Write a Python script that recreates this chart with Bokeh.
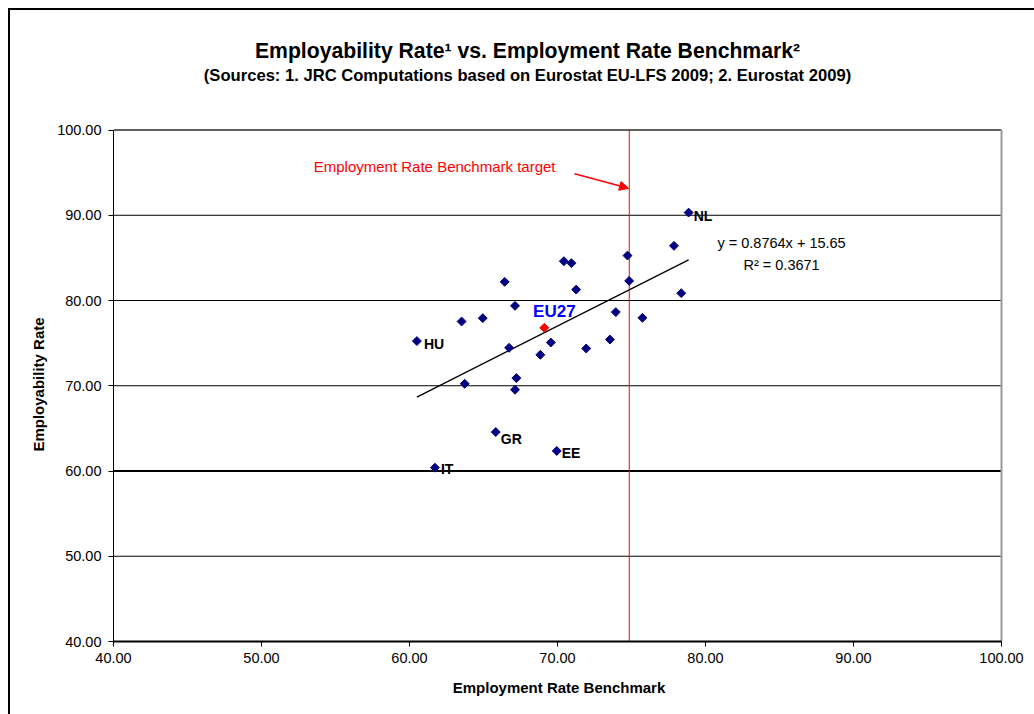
import numpy as np
from bokeh.plotting import figure
from bokeh.layouts import column
from bokeh.models import (Range1d, FixedTicker, NumeralTickFormatter, Label,
                          Arrow, NormalHead, ColumnDataSource)
from bokeh.embed import file_html
from bokeh.resources import INLINE

# ---------------- data ----------------
countries = ["NL", "", "", "", "", "", "", "", "", "", "", "", "", "",
             "HU", "", "", "", "", "", "", "", "", "GR", "EE", "IT"]
employment_benchmark = [78.86, 77.87, 74.73, 70.43, 70.94, 66.43, 74.84, 71.26, 78.36,
                        67.13, 73.94, 64.95, 63.52, 75.74, 60.50, 69.55, 73.54, 66.73,
                        71.94, 68.84, 67.22, 63.73, 67.13, 65.83, 69.95, 61.72]
employability_rate = [90.31, 86.41, 85.27, 84.61, 84.38, 82.19, 82.30, 81.28, 80.86,
                      79.37, 78.64, 77.93, 77.54, 77.97, 75.24, 75.07, 75.42, 74.45,
                      74.37, 73.63, 70.90, 70.23, 69.53, 64.57, 62.35, 60.39]
eu27_x = [69.11]
eu27_y = [76.80]
benchmark_target = 74.85
trend_slope = 0.8764
trend_intercept = 15.65
r_squared = 0.3671
x_ticks = [40, 50, 60, 70, 80, 90, 100]
y_ticks = [40, 50, 60, 70, 80, 90, 100]

title_text = "Employability Rate¹ vs. Employment Rate Benchmark²"
subtitle_text = "(Sources: 1. JRC Computations based on Eurostat EU-LFS 2009; 2. Eurostat 2009)"

# label offsets in pixels (style only)
label_offsets = {"NL": (5, 3), "HU": (7, 3), "GR": (5, 7), "EE": (5, 2), "IT": (6, 1)}

FONT = "Liberation Sans"
X0, X1 = x_ticks[0], x_ticks[-1]
Y0, Y1 = y_ticks[0], y_ticks[-1]

W, H = 1034, 714
TOP_H = 112
MAIN_H = H - TOP_H
FRAME_LEFT, FRAME_RIGHT = 113, 1004
BOTTOM_BORDER = 73
TOP_BORDER = 15
frame_h = MAIN_H - BOTTOM_BORDER - TOP_BORDER
y_top = Y0 + frame_h / 8.525
x_right = X0 + (FRAME_RIGHT - FRAME_LEFT) / 14.8
title_x = X0 + (527 - FRAME_LEFT) / 14.8

top_css = ("linear-gradient(#000,#000) 8px 8px / calc(100% - 8px) 2px no-repeat, "
           "linear-gradient(#000,#000) 8px 8px / 2px calc(100% - 8px) no-repeat, #fff")
main_css = "linear-gradient(#000,#000) 8px 0px / 2px 100% no-repeat, #fff"

# ---------------- title strip ----------------
t = figure(width=W, height=TOP_H, output_backend="svg", toolbar_location=None,
           x_range=Range1d(X0, x_right), y_range=Range1d(TOP_H, 0),
           x_axis_location=None, y_axis_location=None,
           min_border_left=FRAME_LEFT, min_border_right=W - FRAME_RIGHT,
           min_border_top=0, min_border_bottom=0,
           border_fill_color=None, background_fill_color=None, outline_line_color=None,
           styles={"background": top_css})
t.xgrid.visible = False
t.ygrid.visible = False
t.add_layout(Label(x=title_x, y=50, text=title_text, text_font=FONT, text_font_size="21.2px",
                   text_font_style="bold", text_color="black", text_align="center",
                   text_baseline="middle"))
t.add_layout(Label(x=title_x, y=75, text=subtitle_text, text_font=FONT, text_font_size="16.6px",
                   text_font_style="bold", text_color="black", text_align="center",
                   text_baseline="middle"))

# ---------------- main chart ----------------
p = figure(width=W, height=MAIN_H, output_backend="svg", toolbar_location=None,
           x_range=Range1d(X0, x_right), y_range=Range1d(Y0, y_top),
           min_border_left=FRAME_LEFT, min_border_right=W - FRAME_RIGHT,
           min_border_top=TOP_BORDER, min_border_bottom=BOTTOM_BORDER,
           border_fill_color=None, background_fill_color=None, outline_line_color=None,
           styles={"background": main_css})

p.xgrid.visible = False
p.ygrid.visible = False

for ax, ticks in ((p.xaxis[0], x_ticks), (p.yaxis[0], y_ticks)):
    ax.ticker = FixedTicker(ticks=ticks)
    ax.bounds = (ticks[0], ticks[-1])
    ax.formatter = NumeralTickFormatter(format="0.00")
    ax.major_tick_out = 5
    ax.major_tick_in = 0
    ax.minor_tick_line_color = None
    ax.axis_line_color = "black"
    ax.major_tick_line_color = "black"
    ax.major_label_text_font = FONT
    ax.major_label_text_font_size = "14.5px"
    ax.major_label_text_color = "black"
    ax.axis_label_text_font = FONT
    ax.axis_label_text_font_size = "15px"
    ax.axis_label_text_font_style = "bold"
    ax.axis_label_text_color = "black"

p.xaxis.axis_label = "Employment Rate Benchmark"
p.yaxis.axis_label = "Employability Rate"
p.xaxis.axis_line_width = 2
p.yaxis.axis_line_width = 1
p.xaxis.major_label_standoff = 6
p.yaxis.major_label_standoff = 7
p.xaxis.axis_label_standoff = 13
p.yaxis.axis_label_standoff = 7

# horizontal gridlines
grid_vals = y_ticks[1:-1]
p.segment(x0=[X0] * len(grid_vals), x1=[X1] * len(grid_vals), y0=grid_vals, y1=grid_vals,
          line_color="black", line_width=[2 if v == 60 else 1 for v in grid_vals])

# plot-area border (top and right)
p.segment(x0=[X0, X1], x1=[X1, X1], y0=[Y1, Y0], y1=[Y1, Y1],
          line_color=["#606060", "#9a9a9a"], line_width=2)

# benchmark target line
p.segment(x0=[benchmark_target], x1=[benchmark_target], y0=[Y0], y1=[Y1],
          line_color="red", line_width=1)

# trendline
tx = np.array([min(employment_benchmark), max(employment_benchmark)])
ty = trend_slope * tx + trend_intercept
p.line(tx, ty, line_color="black", line_width=1.3)

# points
p.scatter(employment_benchmark, employability_rate, marker="square", angle=np.pi / 4,
          size=6.3, fill_color="#000080", line_color="#000080")
p.scatter(eu27_x, eu27_y, marker="square", angle=np.pi / 4, size=6.3,
          fill_color="red", line_color="red")

# country labels
lab_x, lab_y, lab_t, lab_dx, lab_dy = [], [], [], [], []
for c, x, y in zip(countries, employment_benchmark, employability_rate):
    if c:
        lab_x.append(x); lab_y.append(y); lab_t.append(c)
        dx, dy = label_offsets.get(c, (6, 2))
        lab_dx.append(dx); lab_dy.append(dy)
src = ColumnDataSource(dict(x=lab_x, y=lab_y, t=lab_t, dx=lab_dx, dy=lab_dy))
p.text(x="x", y="y", text="t", x_offset="dx", y_offset="dy", source=src,
       text_font={"value": FONT}, text_font_size="14px", text_font_style="bold",
       text_color="black", text_align="left", text_baseline="middle")

p.add_layout(Label(x=eu27_x[0], y=eu27_y[0], x_offset=10, y_offset=16, text="EU27",
                   text_font=FONT, text_font_size="17px", text_font_style="bold",
                   text_color="#0000FF", text_align="center", text_baseline="middle"))

# annotation
p.add_layout(Label(x=53.53, y=95.66, text="Employment Rate Benchmark target",
                   text_font=FONT, text_font_size="15px", text_color="red",
                   text_align="left", text_baseline="middle"))
p.add_layout(Arrow(end=NormalHead(size=9, fill_color="red", line_color="red"),
                   x_start=71.15, y_start=94.87, x_end=74.8, y_end=93.16,
                   line_color="red", line_width=1.5))

# equation
p.add_layout(Label(x=85.14, y=86.75, text=f"y = {trend_slope}x + {trend_intercept}",
                   text_font=FONT, text_font_size="14.5px", text_color="black",
                   text_align="center", text_baseline="middle"))
p.add_layout(Label(x=85.14, y=84.16, text=f"R² = {r_squared}",
                   text_font=FONT, text_font_size="14.5px", text_color="black",
                   text_align="center", text_baseline="middle"))

layout = column(t, p, spacing=0)
open("out.html", "w").write(file_html(layout, INLINE))
